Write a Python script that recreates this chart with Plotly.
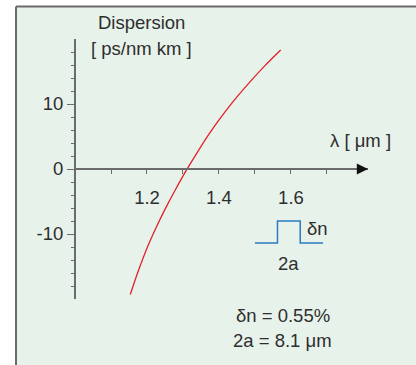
import plotly.graph_objects as go

# ---- data ----
wavelength_um = [1.1536, 1.1758, 1.2036, 1.2314, 1.2528, 1.2778, 1.3103,
                 1.3425, 1.3703, 1.3981, 1.4397, 1.4861, 1.5278, 1.5714]
dispersion = [-19.3, -15.7, -11.7, -8.3, -5.9, -3.3, -0.1,
              2.8, 5.2, 7.4, 10.4, 13.4, 15.9, 18.3]

x_major_ticks = [1.2, 1.4, 1.6]
x_major_text = ["1.2", "1.4", "1.6"]
x_minor_ticks = [1.1, 1.3, 1.5, 1.7]
y_major_ticks = [-10, 0, 10]
y_major_text = ["-10", "0", "10"]
y_minor_ticks = [-18, -16, -14, -12, -8, -6, -4, -2, 2, 4, 6, 8, 12, 14, 16, 18]

# index profile (inset): radius in units of a, relative index step
profile_r = [-3, -1, -1, 1, 1, 3]
profile_n = [0, 0, 1, 1, 0, 0]

x_range = [1.0, 1.814]
y_range = [-20, 20]

W, H = 416, 365
def px(x):
    return x / W
def py(y):
    return 1 - y / H

FONT = "Liberation Sans, Arial, sans-serif"
TXT = "#2e2e2e"
AXC = "#6b6b6b"
BG = "#e7f2ea"
FS = 18.5

fig = go.Figure()

fig.add_trace(go.Scatter(x=wavelength_um, y=dispersion, mode="lines",
                         line=dict(color="#e3202a", width=1.3, shape="spline", smoothing=0.8),
                         showlegend=False, hoverinfo="skip"))

fig.add_trace(go.Scatter(x=profile_r, y=profile_n, mode="lines",
                         line=dict(color="#2b7bc0", width=1.5),
                         xaxis="x2", yaxis="y2",
                         showlegend=False, hoverinfo="skip"))

# arrow head at end of x axis
fig.add_annotation(x=x_range[1], y=0, ax=x_range[1] - 0.03, ay=0,
                   xref="x", yref="y", axref="x", ayref="y",
                   showarrow=True, arrowhead=2, arrowsize=1.4, arrowwidth=1.6,
                   arrowcolor="#111111", text="")

ann = [
    ("Dispersion", 141, 23),
    ("[ ps/nm km ]", 141.5, 48),
    ("λ [ μm ]", 360, 140),
    ("δn", 317, 228),
    ("2a", 288, 263),
    ("δn = 0.55%", 282.7, 315),
    ("2a = 8.1 μm", 282.5, 340),
]
for t, x, y in ann:
    fig.add_annotation(text=t, x=px(x), y=py(y), xref="paper", yref="paper",
                       xanchor="center", yanchor="middle", showarrow=False,
                       font=dict(family=FONT, size=FS, color=TXT))

# panel background and borders
fig.add_shape(type="rect", xref="paper", yref="paper",
              x0=px(16), x1=1, y0=0, y1=py(6.5), fillcolor=BG,
              line=dict(width=0), layer="below")
fig.add_shape(type="line", xref="paper", yref="paper",
              x0=px(16), x1=1, y0=py(6.5), y1=py(6.5),
              line=dict(color=AXC, width=2), layer="below")
fig.add_shape(type="line", xref="paper", yref="paper",
              x0=px(16), x1=px(16), y0=0, y1=py(6.5),
              line=dict(color=AXC, width=2), layer="below")

fig.update_layout(
    width=W, height=H,
    margin=dict(l=0, r=0, t=0, b=0),
    paper_bgcolor="white", plot_bgcolor="rgba(0,0,0,0)",
    font=dict(family=FONT, size=FS, color=TXT),
    xaxis=dict(domain=[px(75), px(368)], range=x_range, anchor="free",
               position=py(169), showgrid=False, zeroline=False,
               showline=True, linecolor=AXC, linewidth=2,
               tickmode="array", tickvals=x_major_ticks, ticktext=x_major_text,
               ticks="outside", ticklen=4, tickwidth=1.3, tickcolor=AXC,
               ticklabelstandoff=8,
               tickfont=dict(family=FONT, size=FS, color=TXT),
               minor=dict(tickmode="array", tickvals=x_minor_ticks, ticks="outside",
                          ticklen=4, tickwidth=1.3, tickcolor=AXC, showgrid=False)),
    yaxis=dict(domain=[py(299), py(39)], range=y_range, anchor="free",
               position=px(75), showgrid=False, zeroline=False,
               showline=True, linecolor=AXC, linewidth=2,
               tickmode="array", tickvals=y_major_ticks, ticktext=y_major_text,
               ticks="outside", ticklen=7, tickwidth=1.3, tickcolor=AXC,
               ticklabelstandoff=0,
               tickfont=dict(family=FONT, size=FS, color=TXT),
               minor=dict(tickmode="array", tickvals=y_minor_ticks, ticks="outside",
                          ticklen=3.5, tickwidth=1.3, tickcolor=AXC, showgrid=False)),
    xaxis2=dict(domain=[px(254.7), px(323)], range=[-3, 3], anchor="y2",
                visible=False, fixedrange=True),
    yaxis2=dict(domain=[py(245.2), py(218.8)], range=[-0.1, 1.1], anchor="x2",
                visible=False, fixedrange=True),
)

fig.write_html("out.html", config={"displayModeBar": False},
               post_script="document.body.style.margin='0';document.body.style.overflow='hidden';")
